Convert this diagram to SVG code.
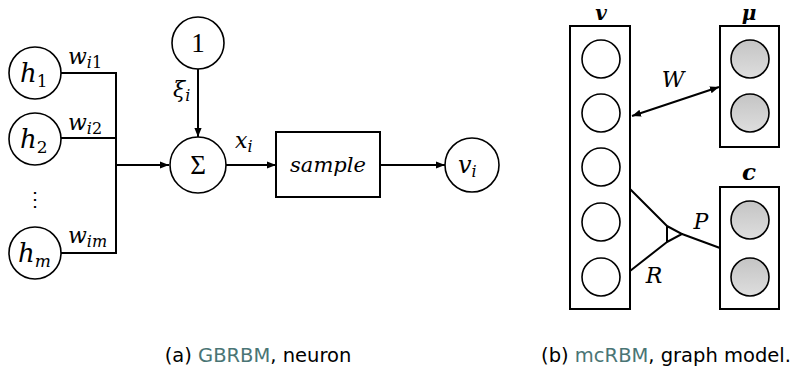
<svg xmlns="http://www.w3.org/2000/svg" width="791" height="374" viewBox="0 0 791 374">
<defs>
<marker id="ah" viewBox="0 0 10 10" refX="10" refY="5" markerWidth="9" markerHeight="9" markerUnits="userSpaceOnUse" orient="auto-start-reverse"><path d="M0,1 L10,5 L0,9 Z" fill="#000"/></marker>
<linearGradient id="g" x1="0" y1="0" x2="0" y2="1"><stop offset="0" stop-color="#c4c4c4"/><stop offset="1" stop-color="#dedede"/></linearGradient>
</defs>
<style>
.n{fill:#fff;stroke:#000;stroke-width:1.6}
.gn{fill:url(#g);stroke:#000;stroke-width:1.6}
.bx{fill:#fff;stroke:#000;stroke-width:2}
.ln{fill:none;stroke:#000;stroke-width:2}
.m{font-family:"DejaVu Serif","Liberation Serif",serif;font-style:italic;fill:#000}
.b{font-family:"DejaVu Serif","Liberation Serif",serif;font-style:italic;font-weight:bold;fill:#000}
.r{font-family:"Liberation Serif","DejaVu Serif",serif;fill:#000}
.cap{font-family:"DejaVu Sans","Liberation Sans",sans-serif;font-size:19.5px;fill:#000}
.tl{fill:#4a7575}
</style>
<g id="connectors">
<path class="ln" d="M61,73 H116 V253 H61 M61,138 H116"/>
<path class="ln" d="M116,165 H169" marker-end="url(#ah)"/>
<path class="ln" d="M198,69 V137" marker-end="url(#ah)"/>
<path class="ln" d="M226,165 H276" marker-end="url(#ah)"/>
<path class="ln" d="M380,165 H445" marker-end="url(#ah)"/>
<path class="ln" d="M632,116 L719,87" marker-start="url(#ah)" marker-end="url(#ah)"/>
<path class="ln" d="M630,189 L667,226 M630,271 L667,242 M667,226 V242 L682,234 Z M682,234 L720,248"/>
</g>
<g id="h1"><circle class="n" cx="35" cy="73" r="26"/><text class="m" x="20" y="82" font-size="26">h<tspan font-size="17" dy="5" font-style="normal">1</tspan></text></g>
<g id="h2"><circle class="n" cx="35" cy="139" r="26"/><text class="m" x="20" y="148" font-size="26">h<tspan font-size="17" dy="5" font-style="normal">2</tspan></text></g>
<g id="dots"><text class="r" x="35" y="206" font-size="20" text-anchor="middle">⋮</text></g>
<g id="hm"><circle class="n" cx="35" cy="253" r="26"/><text class="m" x="18" y="262" font-size="26">h<tspan font-size="17" dy="5">m</tspan></text></g>
<g id="w-labels">
<text class="m" x="68" y="64" font-size="22">w<tspan font-size="16" dy="4">i</tspan><tspan font-size="16" font-style="normal">1</tspan></text>
<text class="m" x="68" y="130" font-size="22">w<tspan font-size="16" dy="4">i</tspan><tspan font-size="16" font-style="normal">2</tspan></text>
<text class="m" x="68" y="243" font-size="22">w<tspan font-size="16" dy="4">im</tspan></text>
</g>
<g id="one"><circle class="n" cx="198" cy="43" r="26"/><text class="r" x="198" y="52" font-size="27" text-anchor="middle">1</text></g>
<g id="xi-label"><text class="m" x="173" y="97" font-size="22">ξ<tspan font-size="16" dy="4">i</tspan></text></g>
<g id="sigma"><circle class="n" cx="198" cy="165" r="28"/><text class="r" x="198" y="174" font-size="27" text-anchor="middle">Σ</text></g>
<g id="x-label"><text class="m" x="235" y="148" font-size="22">x<tspan font-size="16" dy="4">i</tspan></text></g>
<g id="sample"><rect class="bx" x="276" y="132" width="104" height="65"/><text class="m" x="328" y="172" font-size="21" text-anchor="middle">sample</text></g>
<g id="vi"><circle class="n" cx="472" cy="165" r="27"/><text class="m" x="458" y="173" font-size="24">v<tspan font-size="16" dy="4">i</tspan></text></g>
<g id="v-layer">
<rect class="bx" x="570" y="26" width="60" height="283"/>
<circle class="n" cx="601" cy="59" r="19"/>
<circle class="n" cx="601" cy="113" r="19"/>
<circle class="n" cx="601" cy="167" r="19"/>
<circle class="n" cx="601" cy="222" r="19"/>
<circle class="n" cx="601" cy="277" r="19"/>
<text class="b" x="601" y="20" font-size="20" text-anchor="middle">v</text>
</g>
<g id="mu-layer">
<rect class="bx" x="720" y="26" width="59" height="121"/>
<circle class="gn" cx="750" cy="59" r="19"/>
<circle class="gn" cx="750" cy="113" r="19"/>
<text class="b" x="749" y="20" font-size="20" text-anchor="middle">μ</text>
</g>
<g id="c-layer">
<rect class="bx" x="720" y="187" width="59" height="122"/>
<circle class="gn" cx="750" cy="220" r="19"/>
<circle class="gn" cx="750" cy="277" r="19"/>
<text class="b" x="749" y="180" font-size="23" text-anchor="middle">c</text>
</g>
<g id="edge-labels">
<text class="m" x="673" y="87" font-size="22" text-anchor="middle">W</text>
<text class="m" x="701" y="229" font-size="22" text-anchor="middle">P</text>
<text class="m" x="654" y="283" font-size="22" text-anchor="middle">R</text>
</g>
<g id="captions">
<text class="cap" x="258" y="362" text-anchor="middle">(a) <tspan class="tl">GBRBM</tspan>, neuron</text>
<text class="cap" x="666" y="362" text-anchor="middle">(b) <tspan class="tl">mcRBM</tspan>, graph model.</text>
</g>
</svg>
